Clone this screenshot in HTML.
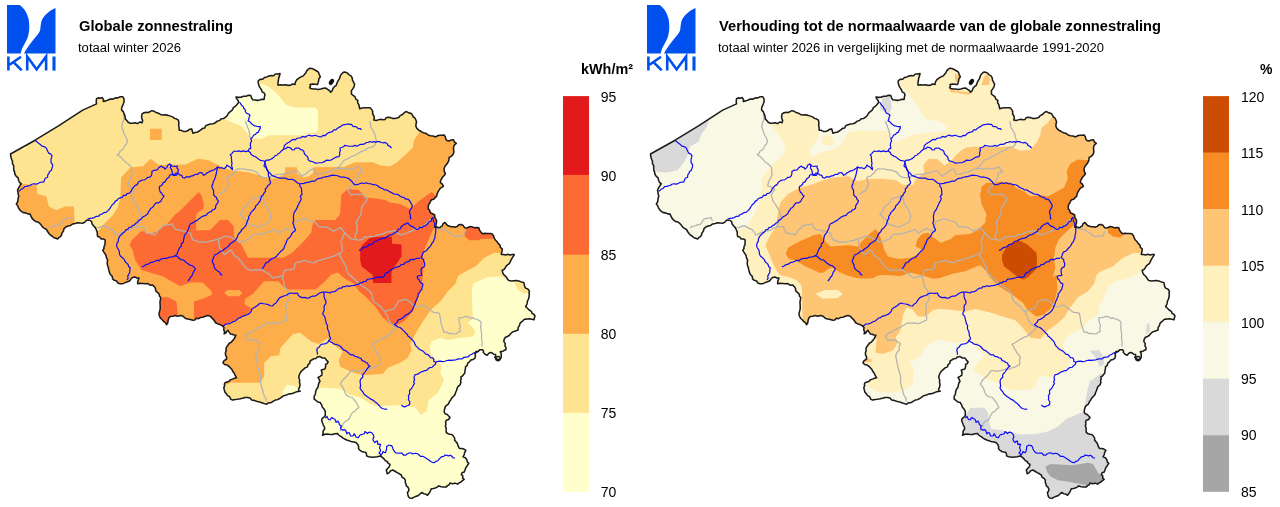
<!DOCTYPE html>
<html><head><meta charset="utf-8"><title>KMI</title>
<style>
html,body{margin:0;padding:0;background:#fff;}
body{width:1280px;height:507px;overflow:hidden;position:relative;font-family:"Liberation Sans",sans-serif;}
svg{position:absolute;left:0;top:0;will-change:transform;}
text{font-family:"Liberation Sans",sans-serif;fill:#000;}
</style></head><body>
<svg width="1280" height="507" viewBox="0 0 1280 507">
<defs>
<clipPath id="bel"><path d="M10.5,154 35.1,140.2 58.9,125.7 82.7,110.1 96.5,103.9 96.24,101.35 96.5,98.8 98.33,97.89 100.41,98.22 102.3,97.6 103.42,99.34 103.3,101.4 105.75,100.88 108.13,100.05 110.46,99.03 113.05,99.11 115.33,97.85 117.9,97.85 120.21,96.75 122.8,96.8 124.04,98.93 124.1,101.4 123.56,103.29 122.8,105.1 121.72,107.49 121.6,110.1 123.32,111.69 124.1,113.9 125.1,116.3 125.3,118.9 126.84,120.48 128.2,122.28 130.3,123.2 132.66,123.22 135.01,122.85 137.41,123.61 139.71,122.12 142.1,122.7 142.64,120.5 141.78,118.3 141.57,116.1 142.1,113.9 144.01,112.73 146.17,112.37 148.46,112.48 150.4,111.4 151.82,110.68 153.4,110.9 155.1,111.88 156.81,112.84 158.74,113.35 160.4,114.4 162.88,115.01 165.54,114.84 168.04,115.37 170.49,116.13 172.9,117.1 174.6,118.37 176.62,119.07 178.4,120.2 178.88,122.68 178.67,125.21 179.07,127.69 179.2,130.2 181.36,130.3 183.32,131.43 185.5,131.4 187.68,130.84 189.49,129.38 191.7,128.9 192.24,131.08 193,133.2 194.89,132.49 196.96,132.22 198.75,131.27 200.5,130.2 202.19,128.57 204.68,128.03 205.79,125.61 208,124.7 210.47,123.91 213.1,123.74 215.5,122.7 217.27,121.12 219.53,120.45 221.22,118.74 223.7,118.44 225.6,117.1 227.32,115.49 228.4,113.4 230.21,111.61 232.28,110.05 233.4,107.61 235.55,106.13 237.17,104.16 238.8,102.2 237.94,100.44 236.81,98.83 235.9,97.1 238.45,97.36 240.97,97.26 243.4,96.31 245.92,96.35 248.33,95.19 250.9,95.6 251.57,97.82 252.8,99.8 255.07,99.94 257.35,100.38 259.6,100.04 261.83,99.16 264.1,99.4 264.38,97.02 265,94.7 264.03,92.9 262.07,91.82 261.43,89.78 260.3,88.1 259.09,85.88 258.28,83.54 258.1,81 260.02,79.38 262.67,79.31 264.47,77.42 266.9,76.9 268.99,75.97 271.23,75.61 273.59,75.74 275.48,74.02 277.8,73.99 280,73.5 279.55,75.85 278.67,78.13 278.39,80.5 277.94,82.85 278.1,85.3 280.5,84.84 282.92,84.92 285.33,84.7 287.79,85.36 290.21,85.34 292.56,84.01 295,84.4 295.5,81.87 296.9,79.7 298.86,78.09 301.03,76.82 303.4,75.9 304.56,74.26 305.86,72.73 306.64,70.82 308.1,69.4 309.81,68.18 311.9,68.4 314.13,69.56 316.33,70.76 318.4,72.2 319.26,74.59 320.3,76.9 318.96,78.54 318.63,80.55 318.18,82.52 317.5,84.4 315,84.22 312.5,84.14 310,84.4 310.46,86.18 309.6,87.8 311.47,88.82 313.51,89.08 315.6,89.1 318.23,89.41 320.79,89.04 323.31,88.19 325.9,88.1 327.57,89.39 329.43,90.46 330.6,92.3 332.18,90.68 332.94,88.39 334.37,86.64 336.3,85.3 337,83.02 338.02,80.9 339.34,78.94 340.04,76.66 341.05,74.54 342.8,72.8 344.09,71.99 345.6,72.2 347.64,73.14 349.03,74.84 351.01,75.86 352.2,77.8 352.47,80.19 353.64,82.26 354.6,84.4 353.97,86.81 352.73,88.9 351.3,90.9 351.53,92.35 351.3,93.8 353.07,95.28 354.95,96.65 355.8,99.05 357.8,100.3 357.55,102.59 358.8,104.54 359.25,106.67 359.7,108.8 362.21,107.93 364.79,107.71 367.4,107.82 370,107.8 371.68,109.49 372.8,111.6 372.56,113.76 373.8,115.74 374.26,117.82 373.8,120 376.06,120.6 378.28,119.88 380.5,119.23 382.76,119.74 385,119.6 385.94,117.86 387.8,117.2 390.15,117.47 392.43,118.36 394.8,118.42 397.2,118.1 398.94,117.24 400.13,115.61 401.9,114.8 403.35,113.57 404.75,112.25 406.6,111.6 408.8,112.88 411.3,113.4 412.41,115.08 413.26,116.94 414.96,118.2 415.9,120 416.56,122.05 415.94,124.26 415.93,126.39 416.9,128.4 418.5,129.96 420.4,131 422.26,132.11 424.18,133.11 426.44,133.55 428.1,135 430.59,135.66 433.15,136.06 435.6,136.9 437.57,135.74 439.7,135.26 441.9,135.15 444.1,135 445.36,136.71 445.71,138.86 446.9,140.6 449.19,140.98 451.29,139.92 453.5,139.7 454.38,141.95 456.3,143.4 454.74,144.59 453.85,146.18 453.5,148.1 453.67,150 453.85,151.91 453.4,153.8 452.23,155.34 450.83,156.61 449.1,157.5 448.93,160.1 447.9,162.5 446.47,164.5 444.85,166.39 444.1,168.8 444.26,171.43 445.4,173.8 444.16,175.49 442.68,176.99 441.6,178.8 440.57,180.56 440.4,182.6 442.38,184.06 443.4,186.3 441.81,187.39 440.13,188.37 439.1,190.1 437.87,192.04 437.08,194.16 436.6,196.4 435.05,197.68 433.75,199.28 431.61,199.81 430.3,201.4 429.87,203.16 428.55,204.57 428.3,206.4 428.29,208.71 429.78,210.55 430.3,212.7 432.57,213.72 434.7,215 434.7,217.08 435.65,218.84 436.6,220.6 436.44,222.94 435.87,225.15 434.7,227.2 436.57,226.68 438.43,227.81 440.3,227.2 442.19,225.96 443.06,223.69 445,222.5 446.26,224.15 447.68,225.59 449.7,226.3 451.53,226.83 453.47,226.68 455.3,227.2 457.2,226.33 458.79,224.84 460.9,224.4 463.29,225.56 464.7,227.8 466.71,228.09 468.48,227.22 470.3,226.6 472.42,226.94 474.46,227.84 476.69,227.4 478.8,227.8 479.56,230.09 480.85,232.06 482.5,233.8 484.85,233.37 487.2,233.43 489.55,233.49 491.9,233.8 493.47,235.77 494.25,238.2 495.6,240.3 497.21,241.78 498.34,243.63 500,245.06 500.39,247.48 502.2,248.8 502.12,250.7 501.66,252.54 501.3,254.4 503.48,254.53 505.67,255.01 507.85,254.28 510.03,255.03 512.22,254.4 514.4,254.4 513.09,256.54 511.84,258.72 510.6,260.9 509.59,263.26 507.54,264.76 505.9,266.6 505,268.17 503.96,269.59 502.2,270.3 502.73,272.82 504.1,275 506.04,276.55 507.26,278.71 508.8,280.6 511.3,280.94 513.8,280.68 516.3,280.6 518.86,280.98 521.29,281.89 523.8,282.5 524.32,284.39 524.59,286.36 525.6,288.1 527.85,289.02 529.4,290.9 529.06,293.01 529.27,295.19 528.98,297.31 528.4,299.4 527.41,301.14 527.19,303.13 526.6,305 525.6,306.6 527.44,308.24 529.15,310.03 531.3,311.3 532.05,313.22 533.83,314.31 535,315.9 534.39,317.76 534.1,319.7 531.75,319.24 529.4,318.8 527.53,319.08 525.62,319.11 523.8,319.7 522.58,320.98 521.23,322.13 520,323.4 519.4,325.61 518.1,327.62 518.1,330 516.09,330.68 514.09,331.4 512.18,332.26 510.6,333.8 509.21,335.47 507.29,336.53 505.29,337.5 504.1,339.4 503.89,341.64 505.24,343.66 505,345.9 506,347.67 505.9,349.7 504.06,350.42 502.37,351.57 500.3,351.6 501.18,353.87 501.3,356.3 500.9,358.27 499.4,359.6 497.7,359.35 496,359.6 495.72,358.2 494.7,357.2 495.72,355.98 495.6,354.4 493.57,354.26 491.97,352.83 490,352.5 488.43,353.73 487.2,355.3 484.98,354.33 483.4,352.5 483.5,350.92 482.5,349.7 480.11,349.66 478.22,351.37 475.9,351.6 474.93,353.67 475.45,355.95 475,358.1 473.14,359.38 470.85,360.03 469.4,361.9 467.75,363.15 467.26,365.35 465.6,366.6 465.4,368.78 464.98,370.93 464.7,373.1 463.6,374.54 462.49,375.96 460.9,376.9 461.17,378.77 460.57,380.63 460.9,382.5 460.08,384.83 458.1,386.3 457.19,388.34 456.52,390.47 455.6,392.5 454.95,394.8 453.31,396.44 451.69,398.1 450.6,400.1 449.35,401.76 448.66,403.82 446.9,405.1 445.42,406.4 444.85,408.17 444.4,410 444.16,412.06 445.3,413.8 447.23,414.57 448.65,415.99 450,417.5 448.57,419.45 446.3,420.3 445.55,422.09 445.97,424.09 445.3,425.9 446.18,428.02 446.08,430.28 446.3,432.5 447.97,433.72 449.88,434.22 451.9,434.4 453.33,436.09 454.59,437.89 454.72,440.36 456.29,441.97 457.5,443.8 458.17,446.21 459.4,448.4 461.74,448.44 463.92,449.03 465.9,450.3 464.71,452.39 464.14,454.74 463.1,456.9 465.38,457.78 466.9,459.7 467.27,461.85 468.8,463.4 467.36,465.5 465.87,467.57 465,470 464.26,471.95 462.11,472.8 461.3,474.7 462.79,475.93 462.7,478.11 464.1,479.4 462.49,480.63 460.94,481.95 459.1,482.86 457.5,484.1 455.08,483.13 452.45,483.78 450,483.1 449.17,484.75 447.5,485.61 446.3,486.9 443.75,486.96 441.22,486.81 438.8,485.9 437.11,487.1 435.29,487.98 433.34,488.49 431.3,488.8 430.28,491.11 429.02,493.28 427.5,495.3 425.81,494.02 423.63,493.72 421.9,492.5 420.03,493.77 418.44,495.43 416.3,496.3 414.16,497.12 412.09,498.2 409.7,498.1 408.42,496.42 407.8,494.4 407.42,492.41 408.81,490.73 408.8,488.8 407.9,487.19 406.47,485.91 405.9,484.1 405.26,482.21 405.32,480.1 404.1,478.4 402.12,477.29 401.3,474.99 399.4,473.8 397.15,472.62 395,471.27 392.8,470 390.65,470.85 389.16,472.67 387.2,473.8 386.76,471.9 386.3,470 387.77,468.29 389.37,466.67 390,464.4 388.28,463.32 387.18,461.48 385.3,460.6 383.95,458.81 382.31,457.32 380.6,455.9 378.76,456.37 376.91,456.79 375,456.9 372.82,457.31 370.73,456.95 368.62,456.79 366.6,455.9 366.45,453.96 365.6,452.2 363.62,451.91 361.7,451.41 360,450.3 358.52,448.7 358.61,446.32 357.72,444.43 356.3,442.8 354.17,441.92 351.81,441.85 349.7,440.9 347.35,440.32 345.18,439.32 343.1,438.1 341.19,436.58 339.04,435.36 337.5,433.4 335.01,433.81 332.55,434.42 330,434.4 327.42,434.01 324.92,434.3 322.5,435.3 323.04,433.22 323.08,431.02 324.61,429.15 324.4,426.9 323.2,424.81 322.34,422.58 321.6,420.3 322.25,418.27 323.93,417.06 325.3,415.6 325.26,413.45 325.3,411.3 324.05,409.12 322.41,407.17 321.56,404.77 320.3,402.6 317.82,401.97 315.92,400.37 314,398.8 314.18,396.34 315.38,394.23 315.63,391.8 316.36,389.53 317.8,387.5 318.1,386.25 318.46,384.48 318.99,382.77 320,381.25 319.16,379.32 318.1,377.5 320.02,376.29 321.9,375 321.95,372.45 321.25,370 323.2,369.6 325,368.75 325.62,366.62 325.6,364.4 327.25,363.55 328.1,361.9 326.42,360.1 325,358.1 322.46,357.96 320.11,356.58 317.5,356.9 315.89,358.44 313.58,358.78 311.77,359.98 310,361.25 309.79,363.41 307.87,364.81 307.5,366.9 305.08,367.87 303.22,369.64 301.25,371.25 300.09,373.2 299.15,375.24 298.75,377.5 299.7,379.91 299.55,382.51 300,385 299.58,387.08 298.67,389.07 298.75,391.25 300.3,391.3 297.98,391.49 295.77,392.08 293.67,393.05 291.5,393.8 289.14,393.86 287.03,394.79 284.82,395.4 282.7,396.3 281.01,397.61 279.27,398.83 277.32,399.64 275.2,400.1 273.09,401.34 271.06,402.73 268.38,402.8 266.4,404.3 264.43,403.62 262.46,402.92 260.45,402.32 258.48,401.64 256.4,401.3 254.19,400.36 251.7,400.08 249.98,398.04 247.6,397.5 245.04,397.57 242.6,398.36 240.1,398.8 237.59,399.18 235.06,399.43 232.6,400.1 230.56,398.99 229.7,396.7 227.61,395.64 226.3,393.8 224.87,391.94 224.31,389.73 223.8,387.5 224.63,385.93 224.38,384.04 225.3,382.5 227.17,381.92 229.03,381.33 230.4,379.8 232.46,379.12 234.48,378.3 236.6,377.8 235.34,375.72 234.37,373.46 232.9,371.5 231.95,369.59 230.51,368.06 229.1,366.5 227.14,365.08 224.64,364.58 222.9,362.8 223.75,361.16 225.1,360.01 226.6,359 226.56,356.83 225.51,354.85 225.4,352.7 226.12,350.86 225.96,348.72 226.65,346.87 227.9,345.2 229.32,343.29 231.42,342.05 232.9,340.2 234.15,338.68 235.13,337 235.9,335.2 233.99,335.07 232.24,334.31 230.4,333.9 229.11,332.08 227.9,330.2 226.67,331.47 225.77,333.08 224.1,333.9 224.69,331.83 223.65,329.77 224.1,327.7 222.37,325.82 220.24,324.61 217.8,323.9 215.62,322.75 214.42,320.61 212.8,318.9 211.4,317.4 209.85,316.11 207.8,315.6 205.32,316.34 202.89,317.27 200.3,317.6 198.57,318.66 196.33,318.27 194.82,319.96 192.8,320.2 190.33,319.43 187.8,318.9 185.71,318.57 184.06,317.22 182.45,315.8 180.3,315.6 177.82,316.35 175.21,315.52 172.72,316.19 170.2,316.4 168.74,318.24 168.07,320.43 167.79,322.79 166.5,324.7 165.69,322.82 163.95,321.71 162.7,320.2 160.82,318.47 159.53,316.38 158.9,313.9 159.54,311.4 160.2,308.9 160.23,306.64 160.1,304.37 159.96,302.1 160.37,299.85 160.7,297.6 159.46,296.08 159.14,294 157.7,292.6 155.83,291.14 155.51,288.64 154.37,286.69 152.7,285.1 150.1,285.23 147.81,283.6 145.2,283.8 142.67,283.48 140.13,283.2 137.6,283.8 137.73,281.8 138.28,279.89 138.9,278 136.79,277.99 134.76,276.92 132.6,277.5 131.27,278.67 130.28,280.18 128.9,281.3 126.73,282.03 124.59,282.87 122.49,283.83 120.1,283.8 117.89,283.05 116.63,280.88 114.3,280.32 112.6,278.8 112.25,276.34 110.35,274.55 109.43,272.34 108.8,270 108.36,267.56 107.42,265.21 107.23,262.72 107.63,260.11 106.5,257.8 106.09,255.67 105.07,253.84 103.9,252.09 102.8,250.3 103.99,248.59 104,246.5 105.08,244.53 104.94,242.31 105.3,240.2 103.54,238.98 101.2,238.96 99.75,237.11 97.7,236.5 97.23,234.41 97.27,232.23 96.5,230.2 95.44,227.89 93.72,225.96 92.16,223.93 91.5,221.4 89.15,220.18 86.5,220.2 84.95,222.14 82.7,223.2 80.2,222.99 77.7,222.7 75.25,223.53 72.7,223.9 70.65,225.41 68.12,226.09 65.75,227.03 63.9,228.9 63.4,231.13 62.02,233.01 61.4,235.2 60.34,236.68 58.81,237.67 57.6,239 55.86,238.31 54.04,237.78 52.6,236.5 50.57,235.19 48.96,233.48 47.6,231.5 46.48,229.5 44.5,228.35 42.65,227.07 41.4,225.2 39.83,223.44 38.01,222.08 35.66,221.51 33.8,220.2 32.1,218.37 30.94,216.23 30.1,213.9 27.73,213.87 25.64,212.88 23.33,212.62 21.3,211.4 19.72,209.74 18.5,207.85 17.64,205.72 16.3,203.9 17.48,202.21 17.91,200.27 18.05,198.23 18.8,196.4 18.24,194.33 17.97,192.19 17.5,190.1 18.61,187.9 19.83,185.77 21.3,183.8 19.5,182.29 18.52,180.24 18.13,177.79 16.3,176.3 14.95,174.44 14.64,172.16 13.8,170.1 13.67,167.87 13.69,165.62 12.4,163.56 12.5,161.3 11.5,158.96 10.8,156.53Z"/></clipPath>
<g id="logo">
<path d="M7,5 L19.7,5 C24,8 27.5,13 28.8,20 C29.8,27 29.3,33 27.5,38 C25.5,43 22,47 20.7,53.6 L7,53.6 Z" fill="#0050f0"/>
<path d="M55.5,7.9 C50,10 45,14.5 42.3,19 C40.5,23 40.6,27 40.2,30 C39.5,33 35,37.5 32,41.5 C29,45.5 25.5,50 24,53.6 L55.5,53.6 Z" fill="#0050f0"/>
<g stroke="#0050f0" stroke-width="2.6" fill="none">
<path d="M8.4,56.5V70.6M21,56.7L9.5,64.8M13.2,61.8L21.7,70.4"/>
<path d="M27.2,70.6V56.5L36.6,69.4L46.1,56.5V70.6"/>
<path d="M54,56.5V70.6" stroke-width="3.1"/>
</g>
</g>
<g id="lines">

<path d="M123.75,113.75 123.65,115.83 124.12,117.92 123.75,120 122.59,122.37 122.02,124.88 121.9,127.5 122.87,129.99 123.58,132.57 124.7,135 125.95,137.03 126.87,139.2 127.5,141.5 126.47,143.79 124.8,145.72 123.75,148 122.36,149.92 120.07,150.95 119.21,153.39 117.2,154.7 119.62,156.29 121.89,158.06 123.75,160.3 125.41,162.19 127.61,163.48 129.4,165.22 131.25,166.9 131.77,169.37 131.72,171.92 132.2,174.4 131.37,176.32 130.65,178.29 129.4,180 128.53,182.83 127.5,185.6 130.11,186.66 132.71,187.72 135,189.4 133.43,191.05 132.32,193.01 131.25,195 131.98,197.57 132.65,200.16 134,202.5 135.69,204.93 137.29,207.42 138.75,210 139.96,212.61 141,215.3 140.16,217.78 138.91,220.11 138.7,222.83 137.24,225.08 136.25,227.5" fill="none" stroke="#b2b2b2" stroke-width="1.25" stroke-linejoin="round"/>
<path d="M50,228 51.81,226.62 54,226 56.03,225.64 57.9,224.62 60,224.5 61.54,222.82 62.77,220.91 64,219 66.3,218.36 68.7,218.14 71,217.5 71.68,219.28 72.5,221" fill="none" stroke="#b2b2b2" stroke-width="1.25" stroke-linejoin="round"/>
<path d="M96.9,227.5 99.54,227.42 101.89,226.18 104.4,225.6 106.78,227.1 109.27,228.38 111.9,229.4 113.42,231.08 114.79,232.85 115.6,235 118.24,234.12 120.64,232.58 123.35,231.87 126,231 128.71,230.57 131.27,229.67 133.54,227.94 136.25,227.5 138.69,226.7 141.21,226.57 143.75,226.6 143.99,228.84 145.53,230.71 145.6,233 148.02,233.18 150.4,233.54 152.74,234.06 155,235 156.52,233.14 157.7,231 159.42,229.29 161.22,227.65 162.5,225.6 164.9,225.4 167.18,224.57 169.62,224.55 171.9,223.75 173.06,225.68 174.04,227.73 175.6,229.4 178.01,229.57 180.33,230.17 182.63,230.88 185,231.25 187.64,232.64 190.6,233 191.1,235.27 191.9,237.46 192.5,239.7 195.1,240.35 197.59,241.32 200,242.5 202.76,241.69 205.72,242.13 208.51,241.53 211.25,240.6 213.86,240.44 216.26,239.4 218.75,238.75 221.34,238.07 223.67,236.69 226.25,236 228.76,236.9 231.4,237.43 233.75,238.75 235.69,239.92 237.68,241 239.4,242.5 241.6,241.34 244.22,241.58 246.27,239.94 248.75,239.7 250.29,238.37 251.44,236.72 252.5,235 255.23,234.02 258.12,233.98 261.04,234.09 263.75,233 266.74,232.66 269.4,231.27 272.29,230.61 275,229.4 276.7,231.38 278.75,233 281.12,231.25 283.78,229.98 286.25,228.4 288.71,229.46 291.3,230.18 293.75,231.25 294.59,228.99 294.61,226.56 295.43,224.3 295.6,221.9 297.8,220.68 300.28,220.39 302.49,219.2 305,219 307.45,219.84 309.88,220.77 312.5,221 315,221.9 316.21,223.5 317.44,225.08 318.75,226.6 321.05,226.97 323.41,226.73 325.7,227.14 328,227.5 329.87,228.83 331.74,230.15 333.75,231.25 335.86,229.88 338.1,228.73 340.3,227.5 342.02,229.2 343.38,231.21 345,233 346.72,235.06 348.88,236.69 350.6,238.75 353.39,239.44 356.25,239.7 359.07,240.12 361.9,239.7 363.33,238.33 364.7,236.9 367.33,237.25 369.83,236.22 372.47,236.73 375,236 377.23,234.89 379.65,234.34 382.17,234.11 384.4,233 386.58,231.79 389.11,231.78 391.54,231.4 393.75,230.3 395.97,232.32 398.63,233.62 401.25,235 404.01,233.83 406.9,233 409.17,231.91 411.63,231.35 413.73,229.81 416.25,229.4 418.49,227.63 421.46,227.28 423.75,225.6 425.73,224.06 427.23,222 429.32,220.59 431.25,219" fill="none" stroke="#b2b2b2" stroke-width="1.25" stroke-linejoin="round"/>
<path d="M218.75,238.75 218.44,241.12 218.78,243.42 219.19,245.72 219.7,248 221.53,250.05 223,252.35 224.4,254.7 226.43,253.33 228.37,251.85 230,250 231.7,251.2 232.81,252.88 233.75,254.7 235.33,256.63 237.81,257.48 239.4,259.4 240.65,261.39 242.36,263.03 243.46,265.13 245,266.9 246.63,268.5 248.68,269.45 250.6,270.6 253.41,270.24 256.23,269.94 259.09,270.07 261.9,269.7 264.32,271.4 266.96,272.74 269.4,274.4 271.23,276.17 273,278 275.38,277.61 277.7,276.84 280.06,276.31 282.5,276.25 283.53,273.45 284.4,270.6 286.64,269.67 289.1,269.79 291.48,269.57 293.75,268.75 294.74,266.95 294.7,264.83 295.6,263 297.92,262.23 300.44,262.14 302.6,260.8 305,260.3 307.3,261.76 310.12,261.76 312.5,263 315.14,262.48 317.31,260.68 320.07,260.49 322.5,259.4 324.95,259.05 327.22,258.05 329.6,257.45 331.9,256.6 334.62,255.78 337.17,254.6 339.4,252.8" fill="none" stroke="#b2b2b2" stroke-width="1.25" stroke-linejoin="round"/>
<path d="M282.5,276.25 282.53,278.68 283.63,280.89 283.58,283.33 284.4,285.6 285.14,287.77 286.99,289.25 288,291.25 288.15,293.4 289.13,295.37 289.4,297.5 288.83,299.52 287.7,301.25 286.6,303 285.97,305.49 286.35,308.12 285.6,310.6 285.66,312.97 286.28,315.28 286.74,317.61 286.6,320 284.48,321.01 282.35,322 280.17,322.86 278,323.75 275.73,323.06 273.43,322.77 271.03,323.36 268.75,322.8 266.35,323.46 264.46,325.03 262.14,325.84 260.3,327.5 257.97,328.08 255.92,329.34 253.75,330.3 251.8,331.97 249.24,332.72 247.08,334.08 245.3,336 246.52,338.38 248,340.6 250.48,339.84 253.11,340.39 255.6,339.7 257.75,341.8 260.3,343.4 259.55,345.54 259.13,347.72 259.4,350 257.66,351.55 256.63,353.57 255.6,355.6 256.2,357.92 256.51,360.31 257.02,362.65 257.5,365 257.9,367.44 258.75,369.74 259.22,372.16 260.3,374.4 260.52,377.05 260.67,379.71 260.46,382.4 261.25,385 261.64,387.6 262.7,390 263.13,392.99 264.32,395.72 265.9,398.33 266.4,401.3" fill="none" stroke="#b2b2b2" stroke-width="1.25" stroke-linejoin="round"/>
<path d="M239.7,214.7 241.31,212.73 242.9,210.74 243.42,208.04 245.3,206.25 247.79,204.51 249.8,202.3 251.26,199.54 253.75,197.8 256.16,197.71 258.49,197.26 260.69,196.08 263.1,196 262.84,198.53 263.86,200.91 264,203.4 265.31,204.93 266.39,206.65 267.8,208.1 268.52,210.39 269.39,212.62 270.6,214.7 270.56,216.92 270.02,219.07 269.7,221.25 267.33,223.04 264.68,224.31 261.98,225.5 259.4,226.9 256.95,226.93 254.66,226.13 252.42,225.1 250,225 248.43,223.35 247.43,221.31 246.25,219.4 243.74,218.28 242.05,216.04 239.7,214.7" fill="none" stroke="#b2b2b2" stroke-width="1.25" stroke-linejoin="round"/>
<path d="M220,194 221.7,192.51 223.79,191.61 225.6,190.3 227.05,188.34 227.64,186.01 228.4,183.75 227.78,181.84 226.98,179.99 226.6,178 228.23,176.43 230.66,176.1 232.2,174.4 234.28,172.73 235.72,170.42 237.8,168.75 240,168.86 242.2,169 244.4,168.75 247.08,169.94 250.07,169.92 252.86,170.67 255.6,171.6 257.43,172.88 258.66,174.78 260.3,176.25 263.01,177.33 265.88,177.69 268.75,178 270.45,176.71 272.45,176.06 274.4,175.3 276.84,174.5 279.35,174.3 281.9,174.4 284.24,173.92 286.49,173.04 288.86,172.71 291.25,172.5 293.98,171.26 296.9,170.6 298.83,172.42 300.33,174.67 302.5,176.25 304.18,174.58 306.33,173.53 308.05,171.92 310,170.6 311.76,169.45 313.75,168.75 314.9,171.5 315.6,174.4 318.02,174.25 320.38,173.85 322.71,173.25 325,172.5 327.96,172.01 330.71,170.88 333.36,169.46 336.25,168.75 337.94,167.12 340,166 341.32,164.14 342.61,162.27 343.75,160.3 346.4,159.37 348.97,158.27 351.25,156.6 353.75,155.74 356.18,154.76 358.36,153.26 360.6,151.9 363.17,150.79 365.7,149.62 368,148 369.92,147.41 371.94,147.18 373.75,146.25 375.1,144.57 375.66,142.49 376.6,140.6 375.79,138.45 375.2,136.24 374.7,134 373.58,131.77 372.3,129.63 371,127.5 370.66,125.33 370.2,123.19 370,121" fill="none" stroke="#b2b2b2" stroke-width="1.25" stroke-linejoin="round"/>
<path d="M250.9,138.75 249.84,136.62 250,134.15 249,132 248.77,129.54 247.53,127.37 247,125 245.9,123.1 245.3,121" fill="none" stroke="#b2b2b2" stroke-width="1.25" stroke-linejoin="round"/>
<path d="M336.25,168.75 338.75,168.49 341.25,168.7 343.75,168.81 346.25,168.27 348.75,168.75 351.25,168.75 353.88,168.67 356.27,167.59 358.75,166.9 359.98,168.48 360.98,170.25 362.5,171.6 360.17,172.55 357.8,173.4 358.07,175.7 357.8,178 356.18,180.03 355.61,182.66 354,184.7 351.53,186.21 349.37,188.08 347.5,190.3 348.7,191.9 349.98,193.45 351.25,195 354.02,194.23 356.84,194.11 359.72,194.58 362.5,194 363.87,195.78 365.53,197.27 367.2,198.75 366,201.48 363.84,203.61 362.5,206.25 361.42,208.86 361.06,211.6 361,214.4 359.25,216.79 357.89,219.43 356.25,221.9 356.66,224.39 357.3,226.85 357.2,229.4 356.77,232.38 355.3,235 355.22,237.46 356.25,239.7" fill="none" stroke="#b2b2b2" stroke-width="1.25" stroke-linejoin="round"/>
<path d="M345,233 343.28,235.3 342.62,238.13 341.25,240.6 341.1,242.99 342.03,245.27 341.98,247.65 342.2,250 341.51,251.99 340.29,253.71 339.4,255.6 341.24,257.69 342.29,260.25 343.79,262.54 345,265 346.45,267.15 346.52,269.84 347.35,272.23 348.75,274.4 350.9,275.61 352.42,277.59 354.4,279 356.25,280.68 358.21,282.23 359.95,284.03 361.9,285.6 363.66,287.03 365.78,287.91 367.5,289.4 369.08,290.73 370.43,292.31 371.9,293.75 371.94,296.39 372.63,298.87 373.75,301.25 375.42,302.93 377.53,304.03 379.08,305.88 381.25,306.9 382.05,308.83 383.39,310.32 385,311.6 387.24,310.54 389.67,310.07 391.96,309.15 394.4,308.75 395.55,306.22 397.18,303.93 398,301.25 400.53,300.63 403.02,299.82 405.6,299.4 407.7,300.26 409.6,301.44 411.25,303 412.85,305.22 415,306.9 417.63,306.79 420.11,306.09 422.5,305 425.08,306 427.15,307.77 429.49,309.14 431.52,310.96 433.75,312.5 436.63,312.6 439.4,313.4 439.88,315.98 440.38,318.56 440.63,321.19 441.25,323.75 442.15,326.57 443.08,329.38 444,332.2 446.69,332.11 449.11,333.62 451.81,333.46 454.4,334 456.58,333.54 458.32,332.07 460.4,331.4 459.63,328.69 460.43,325.82 459.55,323.12 458.88,320.4 459,317.6 461.24,317.75 463.36,317.3 465.4,316.4 468.02,316.6 470.26,318.22 473.01,317.92 475.4,319 478.14,319.8 480.5,321.4 481.16,324.12 480.53,326.96 481.09,329.69 481.39,332.45 481.7,335.2 481.46,338.02 481.95,340.85 482.23,343.68 481.7,346.5" fill="none" stroke="#b2b2b2" stroke-width="1.25" stroke-linejoin="round"/>
<path d="M385,311.6 385.76,314.19 387.55,316.32 387.88,319.11 389.49,321.32 390.6,323.75 392.55,324.9 394.29,326.37 396.25,327.5 394.66,329.66 392.76,331.51 390.69,333.19 388.75,335 386.56,336.46 383.98,337.17 381.78,338.61 379.4,339.7 376.97,341.39 374.54,343.06 371.9,344.4 373.41,346.08 374.15,348.28 375.6,350 376.76,352.76 378.89,354.9 380.3,357.5 379.64,359.96 379.92,362.53 379.4,365 376.93,365.65 374.82,367.17 372.32,367.74 370,368.75 367.67,369.32 365.21,369.24 362.89,369.83 360.6,370.6 358.26,371.07 355.93,371.08 353.59,370.65 351.25,370.6 350.6,371.25 348.99,373.66 347.11,375.82 345,377.8 342.99,379.69 341.44,381.89 340.3,384.4 342.02,385.95 343.25,387.82 344,390 344.86,392.41 346,394.7 347.95,396.13 350.15,396.99 352.5,397.5 353.57,399.21 354.78,400.81 356.25,402.2 357.19,404.06 358.09,405.93 359,407.8 356.58,409.02 354.94,411.31 352.5,412.5 351.37,414.23 350.4,416.05 349.7,418 347.74,420.23 345.02,421.59 343,423.75 342.47,426.38 340.67,428.56 340.3,431.25" fill="none" stroke="#b2b2b2" stroke-width="1.25" stroke-linejoin="round"/>
<path d="M436,228.4 438.8,228.71 441.58,229.26 444.4,229.4 446.19,230.72 448,232 450,233 451.59,234.7 453.56,235.85 455.6,236.9 458.02,236.2 460.49,235.97 463,236 463.95,233.6 465,231.25" fill="none" stroke="#b2b2b2" stroke-width="1.25" stroke-linejoin="round"/>
<path d="M34.7,140.25 36.61,141.58 38.38,143.09 40.3,144.4 41.88,146.07 44.13,146.59 46,147.75 46.99,149.64 47.88,151.58 49,153.4 50.78,154.12 52,155.6 51.65,157.16 51.14,158.69 51,160.3 51.07,162.6 52.59,164.57 52.5,166.9 51.88,168.66 51.29,170.44 49.47,171.55 49,173.4 47.75,174.97 47.59,177.19 45.37,178.2 44.4,179.93 44,182 41.91,182.12 39.87,182.53 37.94,183.56 35.92,184.12 33.75,183.75 31.87,184.28 30.2,185.52 28.28,185.9 26.38,186.4 24.4,186.6 23.44,188.31 21.61,188.97 20.22,190.16 18.75,191.25" fill="none" stroke="#0c0cf5" stroke-width="1.2" stroke-linejoin="round"/>
<path d="M87.5,219 89.74,218.41 92.06,218.13 94.31,217.59 96.37,216.28 98.75,216.25 100.22,214.49 102.35,213.83 104.12,212.57 106.39,212.13 108,210.6 109.36,209.22 110.37,207.59 111.45,206 112.5,204.4 114.16,203.26 115.15,201.36 116.94,200.37 118.17,198.74 120,197.8 122.15,197.4 123.46,195.33 125.85,195.41 127.23,193.47 129.4,193.1 131.02,191.39 132,189.2 133.49,187.39 135,185.6 137.18,184.61 138.32,182.22 140.23,180.87 142.5,180 144.59,179.88 146.25,178.61 147.91,177.33 150,177.2 151.33,175.57 151.9,173.68 151.9,171.6 153.58,170.42 155.6,170.22 157.5,169.7 158.37,168.08 159.8,167.03 161.25,166 162.38,167.17 164.07,167.68 165,169.1 166.78,167.6 167.64,165.24 169.7,164 170.8,165.74 170.52,167.95 171.6,169.7 172.2,172.02 172.5,174.4" fill="none" stroke="#0c0cf5" stroke-width="1.2" stroke-linejoin="round"/>
<path d="M169.7,164 170.91,164.75 171.6,166 173.47,166.28 175.33,166.28 177.2,166 176.98,167.95 178.27,169.66 178.1,171.6 177.54,173.63 176.25,175.3 173.82,175.37 171.6,174.4" fill="none" stroke="#0c0cf5" stroke-width="1.2" stroke-linejoin="round"/>
<path d="M171.6,174.4 169.7,175.3 169.01,177.29 167.1,178.42 165.99,180.12 165,181.9 163.18,182.57 162.42,184.51 161.04,185.71 159.4,186.6 159.35,188.52 159.77,190.37 160.3,192.2 161.75,193.26 162.57,194.93 164,196 163.22,197.61 161.81,198.85 161.25,200.6 159.9,202.05 158.18,202.86 156.04,202.93 154.7,204.4 153.69,205.94 152.63,207.43 150.83,208.31 150,210 148.59,211.55 147.92,213.65 146.25,215 144.76,215.94 143.21,216.8 141.9,218 140.65,219.66 138.62,220.36 137.56,222.24 135.79,223.26 134.46,224.82 132.5,225.6 131.19,227.18 128.89,227.5 127.84,229.41 125.71,229.95 124.64,231.84 123,233 121.72,234.34 120.26,235.53 119.33,237.14 118.4,238.75 118.36,241.09 117.07,243.08 116.6,245.3 117.11,247.48 118.45,249.37 119.28,251.45 119.4,253.75 120.35,255.96 122.18,257.51 123.97,259.1 125,261.25 126.37,262.84 127.95,264.26 128.59,266.44 130.25,267.8 129.75,270 129.83,272.33 128.75,274.4 127.68,276.12 128.1,278.33 126.9,280" fill="none" stroke="#0c0cf5" stroke-width="1.2" stroke-linejoin="round"/>
<path d="M172.5,174.4 174.49,174.75 176.1,173.01 178.1,173.4 179.54,174.86 181.7,175.33 182.63,177.52 184.7,178.1 186.52,176.68 189.01,177.16 190.97,176.14 193.12,175.64 195,174.4 197.41,174.49 199.29,172.76 201.6,172.5 202.7,173.77 203.4,175.3 205.25,174.63 206.64,173.13 208.33,172.17 210,171.18 211.9,170.6 214.06,169.81 215.94,168.6 217.5,166.9 219.54,167.95 221.95,167.73 224,168.75 225.95,167.26 226.9,165 228.29,166.19 229.96,167.04 231.14,168.47 232.5,169.7 232.2,167.65 231.51,165.63 232.06,163.51 231.57,161.48 231.6,159.4 231.25,157.8 231.32,156.09 230.25,154.7 231.78,153.63 232.92,152.13 234.4,151 236.59,151.5 238.75,150.9 241.09,151.64 243.43,150.89 245.76,151.57 248.1,150.9 248.99,148.99 250.9,148.1 250.36,145.76 250.41,143.43 251.56,141.09 250.9,138.75 252.55,137.05 253.75,135 255.47,134.35 256.68,132.86 258.4,132.2 259.03,130.33 260.22,128.65 260.3,126.6 258.28,126.71 256.41,126.21 254.51,125.83 252.8,124.7 251.2,123.47 249.99,121.77 248.1,120.9 248.81,119.06 249.23,117.12 250,115.3 248.44,114.06 246.57,113.21 245.3,111.6 245.29,109.78 243.83,108.55 243.4,106.9 241.85,105.58 240.71,103.94 239.7,102.2" fill="none" stroke="#0c0cf5" stroke-width="1.2" stroke-linejoin="round"/>
<path d="M217.5,166.9 217.23,169.28 216.58,171.58 216.2,173.94 215.6,176.25 214.93,178.15 214.25,180.04 213.16,181.77 212.98,183.86 211.9,185.6 212.16,187.99 213.55,190.16 213.58,192.59 213.75,195 215.1,196.24 216.49,197.46 216.96,199.43 218.4,200.6 217.97,202.55 216.59,204.15 215.66,205.91 215.6,208 214.39,209.48 212.32,209.95 211.25,211.6 209.15,212.27 207.38,213.52 205.98,215.42 203.78,215.92 201.78,216.77 200,218 198.28,219.41 196.46,220.65 194.51,221.69 192.67,222.91 190.6,223.75 189.27,225.76 188.94,228.21 187.8,230.3 186.95,232.23 185.71,233.95 184.35,235.62 184,237.8 183.61,240.01 183.28,242.24 181.26,243.92 181.25,246.25 179.69,247.86 178.62,249.76 177.83,251.84 177.07,253.94 175.6,255.6 173.49,256.66 171.19,257 168.89,257.34 166.8,258.47 164.4,258.4 162.43,258.68 160.54,259.21 158.97,260.81 156.73,260.19 155,261.25 152.82,262.2 150.38,262.56 148.46,264.11 146.09,264.61 144.11,266.02 141.9,266.9" fill="none" stroke="#0c0cf5" stroke-width="1.2" stroke-linejoin="round"/>
<path d="M175.6,255.6 177.46,256.76 179.12,258.25 180.88,259.58 183.28,259.85 185,261.25 186.48,262.82 188.25,264 190.01,265.2 192.21,265.78 194,266.93 195.3,268.75 194.52,270.71 193.1,272.35 192.5,274.4 191.63,276.27 190.15,277.7 189.2,279.51 187.8,281" fill="none" stroke="#0c0cf5" stroke-width="1.2" stroke-linejoin="round"/>
<path d="M248.1,150.9 250,152.13 251.06,154.2 252.8,155.6 254.81,156.56 256.79,157.57 258.43,159.11 260.3,160.3 262.65,160.77 265,161.25 264.7,162.84 264.39,164.43 264,166 265.54,167.31 266.82,168.83 267.8,170.6 268.84,172.35 270.54,173.57 271.6,175.3 273.59,176.11 275.61,176.84 277.64,177.51 279.67,178.18 281.9,178.1 283.98,178.02 285.99,178.34 287.9,179.4 289.95,179.48 292.05,179.24 294,180 295.75,181.47 297.49,182.97 299.7,183.75 299.85,186.07 301.38,188 301.6,190.3 301.7,192.39 301.94,194.49 300.29,196.41 301.22,198.58 300.6,200.6 299.37,202.32 298.7,204.32 297.7,206.16 296.9,208.1 295.81,210.18 294.36,212.08 293.75,214.4 293.36,216.48 293.57,218.63 293.61,220.76 292.8,222.8 293.76,224.99 294.08,227.45 295.6,229.4 294.75,231.29 292.85,232.34 291.65,233.95 290.93,235.95 289.61,237.47 288,238.75 286.83,240.5 286.25,242.54 285.38,244.44 284.36,246.26 283.95,248.39 282.5,250 280.78,251.28 279.41,252.91 277.96,254.46 276.67,256.17 275,257.5 272.88,258.2 270.99,259.28 269.33,260.74 267.79,262.43 265.6,263 264.81,265.2 263.57,267.12 261.9,268.75" fill="none" stroke="#0c0cf5" stroke-width="1.2" stroke-linejoin="round"/>
<path d="M299.7,183.75 301.81,183.64 303.9,183.43 305.89,182.67 307.94,182.29 310,181.9 312.2,180.99 314.74,181.09 316.65,179.32 318.83,178.36 321.25,178.1 323.37,177.28 325.56,176.82 327.77,176.45 329.94,175.89 332.09,175.19 334.4,175.3 336.34,175.52 338.22,175.98 340,176.83 341.9,177.2 343.88,177.21 345.8,177.47 347.63,178.12 349.4,179 350.75,180.47 352.32,181.73 353.35,183.52 355,184.7 357.33,184.77 359.48,183.81 361.65,182.97 364.06,183.52 366.25,182.8 368.41,183.73 370.79,183.77 372.94,184.71 375.32,184.75 377.5,185.6 379.1,187.1 381.03,187.93 382.93,188.82 384.69,189.98 387.05,189.95 388.75,191.25 390.6,192.1 392.37,193.15 394.2,194.04 396.31,194.27 398.34,194.71 400,196 401.8,197.09 404.02,197.31 405.5,199.04 407.85,199.02 409.4,200.6 410.39,202.13 411.29,203.72 412.2,205.3 411.79,207.72 410.36,209.71 409.4,211.9 409.86,213.78 410.52,215.6 410.21,217.67 411.25,219.4" fill="none" stroke="#0c0cf5" stroke-width="1.2" stroke-linejoin="round"/>
<path d="M265,161.25 265,163.51 265.91,165.51 266.38,167.64 266.77,169.79 268.28,171.62 268.33,173.87 268.53,176.07 269.7,178 269.45,179.7 270.19,181.22 270.6,182.8 269.55,184.55 267.8,185.6 266.97,187.51 265.24,188.96 265.48,191.42 264,193 263.15,195.03 261.25,196.47 260.82,198.74 260.05,200.82 258.82,202.64 257.5,204.4 255.76,205.73 255.2,207.93 253.84,209.54 252.35,211.06 250.88,212.59 250.01,214.56 248.75,216.25 248.74,218.6 247.41,220.59 246.9,222.8 246.21,224.91 244.89,226.56 243.52,228.18 241.67,229.43 240.91,231.49 239.4,233 238.03,234.56 237.56,236.72 236.49,238.47 235.48,240.27 233.75,241.6 231.69,242.84 229.68,244.14 228.4,246.37 226.51,247.83 224.4,249 222.9,250.76 220.53,251.09 218.91,252.68 217.16,254.03 215,254.7 213.86,256.8 213,259.01 212.2,261.25 212.97,263.1 214.09,264.82 214.11,266.95 215,268.75 216.45,270.12 218.07,271.29 219.83,272.3 220.58,274.47 222.5,275.3" fill="none" stroke="#0c0cf5" stroke-width="1.2" stroke-linejoin="round"/>
<path d="M265,161.25 266.7,160.07 268.85,160.09 270.7,159.3 272.5,158.4 273.85,157.21 274.97,155.75 276.91,155.25 278,153.75 279.73,152.92 280.89,151.39 282.32,150.19 283.75,149 284,147.32 284.29,145.66 285.6,144.4 287.38,142.97 289.44,141.97 291.25,140.6 292.93,139.42 295.12,139.9 296.74,138.54 298.61,137.98 300.6,137.8 302.48,136.45 305.04,137.11 307.01,136.04 309,135 310.96,135.87 313.06,135.81 315.23,135.26 317.21,136.01 319.21,136.58 321.25,136.9 322.86,135.45 325.29,135.63 326.77,133.9 328.5,132.68 330.6,132.2 332.49,131.66 333.62,129.81 335.87,129.91 337.2,128.4 338.8,127.41 340.51,126.62 342,125.42 343.75,124.7 345.63,124.54 347.48,123.96 349.4,124.3 351.53,124.42 352.92,126.34 355,126.6 356.82,127.03 358.12,128.55 360.14,128.57 361.6,129.75" fill="none" stroke="#0c0cf5" stroke-width="1.2" stroke-linejoin="round"/>
<path d="M283.75,149 285.95,148.61 287.5,147 289.36,147.55 291.02,148.4 292.2,150 294.06,150.02 295.15,148.23 296.9,148 298.96,148.13 300.56,149.55 302.5,150 303.94,151.74 304.51,154.06 306.25,155.6 307.84,157.26 308.18,159.75 310,161.25 311.94,161.42 313.72,162.27 315.48,163.19 317.5,163 319.81,162.73 322.15,162.54 324.32,161.68 326.34,160.18 328.75,160.3 330.99,160.1 332.9,158.95 334.8,157.81 336.79,156.9 339,156.6 339.77,154.51 339.62,152.31 340.4,150.23 340,148 341.77,147.46 343.48,146.8 344.7,145.3 346.87,145.72 349.02,146.23 351.25,146.25 353.15,146.18 354.95,145.42 356.96,146.22 358.75,145.3 360.53,144.34 362.65,144.3 364.61,143.84 366.25,142.5 368.15,142.5 369.94,141.52 371.93,142.31 373.75,141.6 375.6,142.07 377.56,141.58 379.46,141.6 381.25,142.5 383.13,142.85 385.13,142.41 386.9,143.4 388.02,145.39 390.03,146.47 391.6,148" fill="none" stroke="#0c0cf5" stroke-width="1.2" stroke-linejoin="round"/>
<path d="M433.1,217.2 433.12,219.56 433.72,221.75 435,223.75 434.64,225.7 436.07,227.43 435.54,229.39 435.9,231.25 435.54,233.39 434.91,235.47 435.02,237.71 434,239.7 433.24,241.82 431.77,243.49 430.91,245.54 429.4,247.2 428.03,248.43 427.03,250.1 425.56,251.2 423.75,251.9 422.55,253.63 422.02,255.69 421,257.5 422.36,258.47 423.75,259.4 423.72,261.33 424.59,263.1 424.7,265 423.99,266.98 421.9,267.87 421,269.7 421.17,271.59 421.37,273.47 421.9,275.3 419.51,275.6 417.2,276.25 417.5,278.45 419.25,279.93 420,281.9 421.19,283.15 422.8,283.75 422.69,285.66 422.09,287.5 421.9,289.4 420.42,290.78 419.51,292.65 418,294 418.24,295.92 417.3,297.61 416.9,299.4 415.82,301.14 415.21,303.09 414.63,305.04 413.58,306.8 413,308.75 411.97,310.5 410.6,311.91 409.06,313.17 407.5,314.4 405.36,315.11 403.93,317.03 402.09,318.26 400.21,319.4 398,320 397.35,321.99 395.87,323.34 394.4,324.7 396.22,325.73 397.92,327 400,327.5 401.58,328.69 402.94,330.11 404.42,331.4 405.6,333 407.22,334.23 408.13,336.17 409.79,337.36 411.25,338.75 412.8,340.43 414.24,342.19 415,344.4 416.1,346.1 417.58,347.42 418.85,348.95 420.6,350 422.66,350.84 424.26,352.41 425.81,354.06 428,354.7 429.35,355.98 430.45,357.57 432.63,357.84 433.75,359.4 433.71,361.2 435.6,362.22 435.6,364 433.8,365.42 432.27,367.22 429.72,367.58 427.96,369.05 426.25,370.6 424.11,370.7 422.34,371.7 420.39,372.26 418.75,373.59 416.9,374.4 415.26,374.58 414.4,376 414.03,377.85 414.63,379.7 413.69,381.55 414.4,383.4 413.38,385.16 412.42,386.97 411.39,388.72 409.7,390 409.51,391.88 409.68,393.81 408.34,395.54 408.75,397.5 408.4,399.76 409.8,401.77 409.7,404 408.45,405.47 406.54,405.9 405,406.9 402.9,406.39 401.25,405" fill="none" stroke="#0c0cf5" stroke-width="1.2" stroke-linejoin="round"/>
<path d="M420,258.4 418.08,258.33 416.18,258.39 414.44,259.62 412.5,259.4 410.3,259.63 408.95,261.61 406.76,261.87 405,263 403.41,264.52 401.07,264.61 399.62,266.39 397.5,266.9 395.49,267.55 393.6,268.45 391.7,269.32 390,270.6 388.56,271.99 386.64,272.83 385.02,274.01 384.38,276.31 382.5,277.2 380.62,277.37 378.68,276.92 376.84,277.44 375,278 373.15,278.42 371.32,278.96 369.4,279 367.22,279.34 365.93,281.46 363.6,281.5 361.9,282.8 359.87,282.87 358.29,284.41 356.33,284.73 354.46,285.32 352.5,285.6 350.62,285.79 348.78,286.3 346.8,285.76 345,286.6 342.9,286.7 341.35,288.26 339.17,288.15 337.5,289.4 335.9,290.88 334.01,291.75 331.77,291.88 330,293 327.85,292.29 325.66,291.99 323.4,292.2 320.94,292.46 318.85,293.57 316.9,295 315.15,296.03 313.02,296.06 311.05,296.5 309.4,297.8 306.99,298.18 304.7,297.36 302.3,297.64 300,296.9 298.3,295.24 297.5,293 295.13,293.28 292.72,293.25 290.3,293.04 288,294 286.09,295.47 283.73,295.93 281.6,296.9 279.56,297.89 278.29,299.65 277.02,301.42 275.81,303.24 273.88,304.34 272.5,306 270.16,305.75 268.06,304.59 265.81,303.98 263.46,303.76 261.25,303 259.14,303.83 257.58,305.52 255.65,306.64 253.75,307.8 251.94,309.12 251.16,311.35 249.79,313.06 248,314.4 246.11,315.02 244.34,315.93 242.25,316.04 240.74,317.63 238.75,318 236.98,319.36 235.36,320.96 233.16,321.66 231.25,322.8 229.46,323.63 227.53,323.99 225.53,324.1 223.97,325.7 221.9,325.6" fill="none" stroke="#0c0cf5" stroke-width="1.2" stroke-linejoin="round"/>
<path d="M323.4,292.2 324.23,294.41 324.08,296.9 324.85,299.13 326,301.25 325.81,303.61 324.26,305.61 324,307.95 324.26,310.43 323,312.5 322.95,314.59 324.55,316.15 325.08,318.05 325.51,319.99 326,321.9 326.42,323.81 327.64,325.48 327.38,327.59 327.72,329.52 328.75,331.25 329.19,333.13 329.25,335.11 329.96,336.92 330.6,338.75 328.81,340.33 327.8,342.5 325.75,343.59 323.49,343.97 321.25,344.4 320.03,345.63 319.16,347.23 317.5,348 316.79,350.23 317.3,352.47 317.5,354.7" fill="none" stroke="#0c0cf5" stroke-width="1.2" stroke-linejoin="round"/>
<path d="M359,250.4 360.81,249.93 362.11,248.4 363.76,247.6 365.6,247.2 367.55,246.26 369.03,244.48 371.44,244.35 373.31,243.26 374.65,241.25 377.01,241.01 378.75,239.7 380.6,238.96 382.53,238.41 384.55,238.11 386.42,237.42 388,236 389.84,234.93 392.03,234.56 393.89,233.53 395.6,232.2 397.55,231.41 398.09,229.03 400.48,228.73 401.24,226.61 403,225.6 404.32,224.19 406.27,223.86 407.8,222.8 409.05,224.46 410.5,225.87 412.5,226.6 414.5,227.84 416.25,229.4 418.31,229.1 419.73,227.23 422.12,227.77 423.61,226.07 425.6,225.6 427.05,224.5 428.07,222.86 429.41,221.62 431.25,221 431.51,218.78 433.1,217.2" fill="none" stroke="#0c0cf5" stroke-width="1.2" stroke-linejoin="round"/>
<path d="M328.75,340.6 330.52,341.75 332.36,342.77 334.07,344.06 336.25,344.4 338.38,345.22 340.37,346.25 341.9,348 343.48,349.82 345.8,350.68 347.64,352.16 349.4,353.75 351.11,354.9 353.32,354.73 354.81,356.46 356.9,356.6 358.78,357.75 360.99,358.38 362.19,360.62 364.4,361.25 365.73,362.52 367.61,363.14 368.27,365.2 370,366 368.22,367.49 366.79,369.27 365.6,371.25 364.25,373 362.67,374.61 362.77,377.26 361,378.75 360.04,380.99 360.29,383.35 360.62,385.73 360,388 361.11,390.01 362.7,391.7 363.75,393.75 365.49,395.34 367.32,396.82 369.35,398.02 371.25,399.4 373.49,400.32 375.1,402.07 377.05,403.36 378.75,405 380.07,406.54 381.44,408 383.4,408.75 385.27,409.29 387.2,409" fill="none" stroke="#0c0cf5" stroke-width="1.2" stroke-linejoin="round"/>
<path d="M435.6,362.2 437.89,361.38 440.24,361.17 442.66,361.63 445,361.25 447.06,360.52 449.18,360.2 451.35,360.45 453.47,360.13 455.6,360 457.57,359.08 459.7,358.84 461.92,359 463.74,357.46 465.82,357.04 468,357 469.64,355.19 471.8,354.27 473.69,352.88 476.37,352.82 478,351" fill="none" stroke="#0c0cf5" stroke-width="1.2" stroke-linejoin="round"/>
<path d="M325.3,418 327,416.5 327.69,418.03 328.5,419.5 330,420 330.82,418.61 332,417.5 333.1,418.7 334.7,419 335.65,420.64 336,422.5 337.01,421.76 338,421 338.92,422.77 339.4,424.7 340.52,425.24 341.5,426 340.55,427.38 341,429 343,430.3 344.18,429.56 345.5,430 346.28,431.97 346.9,434 347.71,432.91 349,432.5 349.96,434.16 350.5,436 352.5,436 353.89,435.13 354,433.5 355.22,435.12 356,437 358,437.8 359.13,436.49 360,435 361.84,434.38 363.75,434 364.68,432.9 365,431.5 366.3,432.44 367.5,433.5 368.69,432.4 370.3,432.2 371.45,432.76 372.5,433.5 373.38,435.14 374,436.9 373.08,438.32 373,440 373.93,441.31 375,442.5 376.02,441.36 377.5,441 377.49,442.79 378,444.5 379.29,444.15 380.6,444.4 380.03,446.19 379.5,448 380.6,450 380.17,451.7 379,453 380.09,453.91 381,455 382.37,453.46 383,451.5 384.14,452.17 385.3,452.8 386.14,450.75 386.61,448.62 386.7,446.4 387.92,445.81 389,445 390.3,445.56 391.7,445.7 392.49,447.29 393,449 394.1,450.95 395.5,452.7 397.72,453.26 400,453 402.06,453.18 403.42,455.08 405.5,455.2 407.14,453.93 409,453 411.13,452.97 413,454 414.93,453.23 417,453.5 418.9,454.77 420.5,456.4 422.9,456.32 425,457.5 426.96,458.71 428.81,460.06 430.6,461.5 432.38,462.32 434.3,462.7 435.84,461.41 437.86,460.71 439.17,459.14 440.6,457.7 441.93,456.57 443.83,456.38 445,455 446.86,455.37 448.71,455.83 450.6,455.2 451.87,456.49 453.14,457.78 455,458.2" fill="none" stroke="#0c0cf5" stroke-width="1.2" stroke-linejoin="round"/>
<path d="M10.5,154 35.1,140.2 58.9,125.7 82.7,110.1 96.5,103.9 96.24,101.35 96.5,98.8 98.33,97.89 100.41,98.22 102.3,97.6 103.42,99.34 103.3,101.4 105.75,100.88 108.13,100.05 110.46,99.03 113.05,99.11 115.33,97.85 117.9,97.85 120.21,96.75 122.8,96.8 124.04,98.93 124.1,101.4 123.56,103.29 122.8,105.1 121.72,107.49 121.6,110.1 123.32,111.69 124.1,113.9 125.1,116.3 125.3,118.9 126.84,120.48 128.2,122.28 130.3,123.2 132.66,123.22 135.01,122.85 137.41,123.61 139.71,122.12 142.1,122.7 142.64,120.5 141.78,118.3 141.57,116.1 142.1,113.9 144.01,112.73 146.17,112.37 148.46,112.48 150.4,111.4 151.82,110.68 153.4,110.9 155.1,111.88 156.81,112.84 158.74,113.35 160.4,114.4 162.88,115.01 165.54,114.84 168.04,115.37 170.49,116.13 172.9,117.1 174.6,118.37 176.62,119.07 178.4,120.2 178.88,122.68 178.67,125.21 179.07,127.69 179.2,130.2 181.36,130.3 183.32,131.43 185.5,131.4 187.68,130.84 189.49,129.38 191.7,128.9 192.24,131.08 193,133.2 194.89,132.49 196.96,132.22 198.75,131.27 200.5,130.2 202.19,128.57 204.68,128.03 205.79,125.61 208,124.7 210.47,123.91 213.1,123.74 215.5,122.7 217.27,121.12 219.53,120.45 221.22,118.74 223.7,118.44 225.6,117.1 227.32,115.49 228.4,113.4 230.21,111.61 232.28,110.05 233.4,107.61 235.55,106.13 237.17,104.16 238.8,102.2 237.94,100.44 236.81,98.83 235.9,97.1 238.45,97.36 240.97,97.26 243.4,96.31 245.92,96.35 248.33,95.19 250.9,95.6 251.57,97.82 252.8,99.8 255.07,99.94 257.35,100.38 259.6,100.04 261.83,99.16 264.1,99.4 264.38,97.02 265,94.7 264.03,92.9 262.07,91.82 261.43,89.78 260.3,88.1 259.09,85.88 258.28,83.54 258.1,81 260.02,79.38 262.67,79.31 264.47,77.42 266.9,76.9 268.99,75.97 271.23,75.61 273.59,75.74 275.48,74.02 277.8,73.99 280,73.5 279.55,75.85 278.67,78.13 278.39,80.5 277.94,82.85 278.1,85.3 280.5,84.84 282.92,84.92 285.33,84.7 287.79,85.36 290.21,85.34 292.56,84.01 295,84.4 295.5,81.87 296.9,79.7 298.86,78.09 301.03,76.82 303.4,75.9 304.56,74.26 305.86,72.73 306.64,70.82 308.1,69.4 309.81,68.18 311.9,68.4 314.13,69.56 316.33,70.76 318.4,72.2 319.26,74.59 320.3,76.9 318.96,78.54 318.63,80.55 318.18,82.52 317.5,84.4 315,84.22 312.5,84.14 310,84.4 310.46,86.18 309.6,87.8 311.47,88.82 313.51,89.08 315.6,89.1 318.23,89.41 320.79,89.04 323.31,88.19 325.9,88.1 327.57,89.39 329.43,90.46 330.6,92.3 332.18,90.68 332.94,88.39 334.37,86.64 336.3,85.3 337,83.02 338.02,80.9 339.34,78.94 340.04,76.66 341.05,74.54 342.8,72.8 344.09,71.99 345.6,72.2 347.64,73.14 349.03,74.84 351.01,75.86 352.2,77.8 352.47,80.19 353.64,82.26 354.6,84.4 353.97,86.81 352.73,88.9 351.3,90.9 351.53,92.35 351.3,93.8 353.07,95.28 354.95,96.65 355.8,99.05 357.8,100.3 357.55,102.59 358.8,104.54 359.25,106.67 359.7,108.8 362.21,107.93 364.79,107.71 367.4,107.82 370,107.8 371.68,109.49 372.8,111.6 372.56,113.76 373.8,115.74 374.26,117.82 373.8,120 376.06,120.6 378.28,119.88 380.5,119.23 382.76,119.74 385,119.6 385.94,117.86 387.8,117.2 390.15,117.47 392.43,118.36 394.8,118.42 397.2,118.1 398.94,117.24 400.13,115.61 401.9,114.8 403.35,113.57 404.75,112.25 406.6,111.6 408.8,112.88 411.3,113.4 412.41,115.08 413.26,116.94 414.96,118.2 415.9,120 416.56,122.05 415.94,124.26 415.93,126.39 416.9,128.4 418.5,129.96 420.4,131 422.26,132.11 424.18,133.11 426.44,133.55 428.1,135 430.59,135.66 433.15,136.06 435.6,136.9 437.57,135.74 439.7,135.26 441.9,135.15 444.1,135 445.36,136.71 445.71,138.86 446.9,140.6 449.19,140.98 451.29,139.92 453.5,139.7 454.38,141.95 456.3,143.4 454.74,144.59 453.85,146.18 453.5,148.1 453.67,150 453.85,151.91 453.4,153.8 452.23,155.34 450.83,156.61 449.1,157.5 448.93,160.1 447.9,162.5 446.47,164.5 444.85,166.39 444.1,168.8 444.26,171.43 445.4,173.8 444.16,175.49 442.68,176.99 441.6,178.8 440.57,180.56 440.4,182.6 442.38,184.06 443.4,186.3 441.81,187.39 440.13,188.37 439.1,190.1 437.87,192.04 437.08,194.16 436.6,196.4 435.05,197.68 433.75,199.28 431.61,199.81 430.3,201.4 429.87,203.16 428.55,204.57 428.3,206.4 428.29,208.71 429.78,210.55 430.3,212.7 432.57,213.72 434.7,215 434.7,217.08 435.65,218.84 436.6,220.6 436.44,222.94 435.87,225.15 434.7,227.2 436.57,226.68 438.43,227.81 440.3,227.2 442.19,225.96 443.06,223.69 445,222.5 446.26,224.15 447.68,225.59 449.7,226.3 451.53,226.83 453.47,226.68 455.3,227.2 457.2,226.33 458.79,224.84 460.9,224.4 463.29,225.56 464.7,227.8 466.71,228.09 468.48,227.22 470.3,226.6 472.42,226.94 474.46,227.84 476.69,227.4 478.8,227.8 479.56,230.09 480.85,232.06 482.5,233.8 484.85,233.37 487.2,233.43 489.55,233.49 491.9,233.8 493.47,235.77 494.25,238.2 495.6,240.3 497.21,241.78 498.34,243.63 500,245.06 500.39,247.48 502.2,248.8 502.12,250.7 501.66,252.54 501.3,254.4 503.48,254.53 505.67,255.01 507.85,254.28 510.03,255.03 512.22,254.4 514.4,254.4 513.09,256.54 511.84,258.72 510.6,260.9 509.59,263.26 507.54,264.76 505.9,266.6 505,268.17 503.96,269.59 502.2,270.3 502.73,272.82 504.1,275 506.04,276.55 507.26,278.71 508.8,280.6 511.3,280.94 513.8,280.68 516.3,280.6 518.86,280.98 521.29,281.89 523.8,282.5 524.32,284.39 524.59,286.36 525.6,288.1 527.85,289.02 529.4,290.9 529.06,293.01 529.27,295.19 528.98,297.31 528.4,299.4 527.41,301.14 527.19,303.13 526.6,305 525.6,306.6 527.44,308.24 529.15,310.03 531.3,311.3 532.05,313.22 533.83,314.31 535,315.9 534.39,317.76 534.1,319.7 531.75,319.24 529.4,318.8 527.53,319.08 525.62,319.11 523.8,319.7 522.58,320.98 521.23,322.13 520,323.4 519.4,325.61 518.1,327.62 518.1,330 516.09,330.68 514.09,331.4 512.18,332.26 510.6,333.8 509.21,335.47 507.29,336.53 505.29,337.5 504.1,339.4 503.89,341.64 505.24,343.66 505,345.9 506,347.67 505.9,349.7 504.06,350.42 502.37,351.57 500.3,351.6 501.18,353.87 501.3,356.3 500.9,358.27 499.4,359.6 497.7,359.35 496,359.6 495.72,358.2 494.7,357.2 495.72,355.98 495.6,354.4 493.57,354.26 491.97,352.83 490,352.5 488.43,353.73 487.2,355.3 484.98,354.33 483.4,352.5 483.5,350.92 482.5,349.7 480.11,349.66 478.22,351.37 475.9,351.6 474.93,353.67 475.45,355.95 475,358.1 473.14,359.38 470.85,360.03 469.4,361.9 467.75,363.15 467.26,365.35 465.6,366.6 465.4,368.78 464.98,370.93 464.7,373.1 463.6,374.54 462.49,375.96 460.9,376.9 461.17,378.77 460.57,380.63 460.9,382.5 460.08,384.83 458.1,386.3 457.19,388.34 456.52,390.47 455.6,392.5 454.95,394.8 453.31,396.44 451.69,398.1 450.6,400.1 449.35,401.76 448.66,403.82 446.9,405.1 445.42,406.4 444.85,408.17 444.4,410 444.16,412.06 445.3,413.8 447.23,414.57 448.65,415.99 450,417.5 448.57,419.45 446.3,420.3 445.55,422.09 445.97,424.09 445.3,425.9 446.18,428.02 446.08,430.28 446.3,432.5 447.97,433.72 449.88,434.22 451.9,434.4 453.33,436.09 454.59,437.89 454.72,440.36 456.29,441.97 457.5,443.8 458.17,446.21 459.4,448.4 461.74,448.44 463.92,449.03 465.9,450.3 464.71,452.39 464.14,454.74 463.1,456.9 465.38,457.78 466.9,459.7 467.27,461.85 468.8,463.4 467.36,465.5 465.87,467.57 465,470 464.26,471.95 462.11,472.8 461.3,474.7 462.79,475.93 462.7,478.11 464.1,479.4 462.49,480.63 460.94,481.95 459.1,482.86 457.5,484.1 455.08,483.13 452.45,483.78 450,483.1 449.17,484.75 447.5,485.61 446.3,486.9 443.75,486.96 441.22,486.81 438.8,485.9 437.11,487.1 435.29,487.98 433.34,488.49 431.3,488.8 430.28,491.11 429.02,493.28 427.5,495.3 425.81,494.02 423.63,493.72 421.9,492.5 420.03,493.77 418.44,495.43 416.3,496.3 414.16,497.12 412.09,498.2 409.7,498.1 408.42,496.42 407.8,494.4 407.42,492.41 408.81,490.73 408.8,488.8 407.9,487.19 406.47,485.91 405.9,484.1 405.26,482.21 405.32,480.1 404.1,478.4 402.12,477.29 401.3,474.99 399.4,473.8 397.15,472.62 395,471.27 392.8,470 390.65,470.85 389.16,472.67 387.2,473.8 386.76,471.9 386.3,470 387.77,468.29 389.37,466.67 390,464.4 388.28,463.32 387.18,461.48 385.3,460.6 383.95,458.81 382.31,457.32 380.6,455.9 378.76,456.37 376.91,456.79 375,456.9 372.82,457.31 370.73,456.95 368.62,456.79 366.6,455.9 366.45,453.96 365.6,452.2 363.62,451.91 361.7,451.41 360,450.3 358.52,448.7 358.61,446.32 357.72,444.43 356.3,442.8 354.17,441.92 351.81,441.85 349.7,440.9 347.35,440.32 345.18,439.32 343.1,438.1 341.19,436.58 339.04,435.36 337.5,433.4 335.01,433.81 332.55,434.42 330,434.4 327.42,434.01 324.92,434.3 322.5,435.3 323.04,433.22 323.08,431.02 324.61,429.15 324.4,426.9 323.2,424.81 322.34,422.58 321.6,420.3 322.25,418.27 323.93,417.06 325.3,415.6 325.26,413.45 325.3,411.3 324.05,409.12 322.41,407.17 321.56,404.77 320.3,402.6 317.82,401.97 315.92,400.37 314,398.8 314.18,396.34 315.38,394.23 315.63,391.8 316.36,389.53 317.8,387.5 318.1,386.25 318.46,384.48 318.99,382.77 320,381.25 319.16,379.32 318.1,377.5 320.02,376.29 321.9,375 321.95,372.45 321.25,370 323.2,369.6 325,368.75 325.62,366.62 325.6,364.4 327.25,363.55 328.1,361.9 326.42,360.1 325,358.1 322.46,357.96 320.11,356.58 317.5,356.9 315.89,358.44 313.58,358.78 311.77,359.98 310,361.25 309.79,363.41 307.87,364.81 307.5,366.9 305.08,367.87 303.22,369.64 301.25,371.25 300.09,373.2 299.15,375.24 298.75,377.5 299.7,379.91 299.55,382.51 300,385 299.58,387.08 298.67,389.07 298.75,391.25 300.3,391.3 297.98,391.49 295.77,392.08 293.67,393.05 291.5,393.8 289.14,393.86 287.03,394.79 284.82,395.4 282.7,396.3 281.01,397.61 279.27,398.83 277.32,399.64 275.2,400.1 273.09,401.34 271.06,402.73 268.38,402.8 266.4,404.3 264.43,403.62 262.46,402.92 260.45,402.32 258.48,401.64 256.4,401.3 254.19,400.36 251.7,400.08 249.98,398.04 247.6,397.5 245.04,397.57 242.6,398.36 240.1,398.8 237.59,399.18 235.06,399.43 232.6,400.1 230.56,398.99 229.7,396.7 227.61,395.64 226.3,393.8 224.87,391.94 224.31,389.73 223.8,387.5 224.63,385.93 224.38,384.04 225.3,382.5 227.17,381.92 229.03,381.33 230.4,379.8 232.46,379.12 234.48,378.3 236.6,377.8 235.34,375.72 234.37,373.46 232.9,371.5 231.95,369.59 230.51,368.06 229.1,366.5 227.14,365.08 224.64,364.58 222.9,362.8 223.75,361.16 225.1,360.01 226.6,359 226.56,356.83 225.51,354.85 225.4,352.7 226.12,350.86 225.96,348.72 226.65,346.87 227.9,345.2 229.32,343.29 231.42,342.05 232.9,340.2 234.15,338.68 235.13,337 235.9,335.2 233.99,335.07 232.24,334.31 230.4,333.9 229.11,332.08 227.9,330.2 226.67,331.47 225.77,333.08 224.1,333.9 224.69,331.83 223.65,329.77 224.1,327.7 222.37,325.82 220.24,324.61 217.8,323.9 215.62,322.75 214.42,320.61 212.8,318.9 211.4,317.4 209.85,316.11 207.8,315.6 205.32,316.34 202.89,317.27 200.3,317.6 198.57,318.66 196.33,318.27 194.82,319.96 192.8,320.2 190.33,319.43 187.8,318.9 185.71,318.57 184.06,317.22 182.45,315.8 180.3,315.6 177.82,316.35 175.21,315.52 172.72,316.19 170.2,316.4 168.74,318.24 168.07,320.43 167.79,322.79 166.5,324.7 165.69,322.82 163.95,321.71 162.7,320.2 160.82,318.47 159.53,316.38 158.9,313.9 159.54,311.4 160.2,308.9 160.23,306.64 160.1,304.37 159.96,302.1 160.37,299.85 160.7,297.6 159.46,296.08 159.14,294 157.7,292.6 155.83,291.14 155.51,288.64 154.37,286.69 152.7,285.1 150.1,285.23 147.81,283.6 145.2,283.8 142.67,283.48 140.13,283.2 137.6,283.8 137.73,281.8 138.28,279.89 138.9,278 136.79,277.99 134.76,276.92 132.6,277.5 131.27,278.67 130.28,280.18 128.9,281.3 126.73,282.03 124.59,282.87 122.49,283.83 120.1,283.8 117.89,283.05 116.63,280.88 114.3,280.32 112.6,278.8 112.25,276.34 110.35,274.55 109.43,272.34 108.8,270 108.36,267.56 107.42,265.21 107.23,262.72 107.63,260.11 106.5,257.8 106.09,255.67 105.07,253.84 103.9,252.09 102.8,250.3 103.99,248.59 104,246.5 105.08,244.53 104.94,242.31 105.3,240.2 103.54,238.98 101.2,238.96 99.75,237.11 97.7,236.5 97.23,234.41 97.27,232.23 96.5,230.2 95.44,227.89 93.72,225.96 92.16,223.93 91.5,221.4 89.15,220.18 86.5,220.2 84.95,222.14 82.7,223.2 80.2,222.99 77.7,222.7 75.25,223.53 72.7,223.9 70.65,225.41 68.12,226.09 65.75,227.03 63.9,228.9 63.4,231.13 62.02,233.01 61.4,235.2 60.34,236.68 58.81,237.67 57.6,239 55.86,238.31 54.04,237.78 52.6,236.5 50.57,235.19 48.96,233.48 47.6,231.5 46.48,229.5 44.5,228.35 42.65,227.07 41.4,225.2 39.83,223.44 38.01,222.08 35.66,221.51 33.8,220.2 32.1,218.37 30.94,216.23 30.1,213.9 27.73,213.87 25.64,212.88 23.33,212.62 21.3,211.4 19.72,209.74 18.5,207.85 17.64,205.72 16.3,203.9 17.48,202.21 17.91,200.27 18.05,198.23 18.8,196.4 18.24,194.33 17.97,192.19 17.5,190.1 18.61,187.9 19.83,185.77 21.3,183.8 19.5,182.29 18.52,180.24 18.13,177.79 16.3,176.3 14.95,174.44 14.64,172.16 13.8,170.1 13.67,167.87 13.69,165.62 12.4,163.56 12.5,161.3 11.5,158.96 10.8,156.53Z" fill="none" stroke="#1c1c1c" stroke-width="1.55" stroke-linejoin="round"/>
<ellipse cx="331.3" cy="82" rx="2.2" ry="3.4" fill="#111" transform="rotate(32 331.5 82.2)"/>
<circle cx="498.1" cy="358.6" r="2.1" fill="none" stroke="#1c1c1c" stroke-width="1.4"/>
</g></defs>
<g clip-path="url(#bel)">
<rect x="0" y="60" width="540" height="447" fill="#fee391"/>
<path d="M261.9,83.8 269.4,87.1 278.2,95.1 285.7,104.6 294.5,107.6 320.1,107.6 315,107.6 318,110.1 318,130.2 315,132.7 300,132.7 320.1,135.2 269.4,135.2 260.7,138.9 251.9,138.2 246.9,132.7 241.9,126.4 233.1,122.7 225.6,119.6 223.1,110.1 233.1,92.6 255.6,92.6 255.6,85.1Z" fill="#ffffcc"/><path d="M472.9,283.8 486.7,277.5 500.5,276.3 514.3,282.1 518,290.1 524.3,293.8 529.3,292.6 540.6,292.6 540.6,360.3 475.7,380 475.7,505.3 310.3,505.3 310.3,387.5 320.3,387.5 340.4,388.8 350.4,395 360.4,397.5 370.4,403.8 375.4,406.3 400.5,405.1 415.5,407.6 420.6,415.1 426.8,411.3 428.6,400.1 438.1,392.5 441.9,385 444.4,380 444.1,380.3 440.4,372.8 441.6,365.3 436.6,360.3 430.3,352.7 429.8,346.5 431.6,341.5 440.4,337.7 447.9,340.2 460.4,337.7 472.9,336.4 475.4,332.7 472.9,327.7 467.9,322.7 472.9,318.9 471.7,292.6Z" fill="#ffffcc"/><path d="M282.7,391.3 286.5,385 294,385.5 300.3,390.5 305.3,391.3 305.3,400.1 282.7,400.1Z" fill="#ffffcc"/><path d="M22.3,146.3 26,146.3 26,149.6 22.3,149.6Z" fill="#ffffcc"/>
<path d="M95.2,235.2 104,223.9 112.8,215.2 117.8,207.6 120.3,197.6 121.1,177.6 130.3,167.5 142.9,166.3 150.4,158.8 159.1,165 185.5,164.5 198,158.8 208,160 220.6,166.3 231,170.6 250,172.5 265,177.5 273.75,178.75 282.5,175.6 285,172 285,167.25 297,167.25 297.25,173.75 303.75,177.5 308.75,176.25 313,173 313.75,167.25 343.75,167 350,164.4 355,162.25 372.7,162.3 380,165.3 390,166.5 396.5,162.8 405,155 412.8,147.7 414,140 420,131.4 424,126 470,125 470,200 450,215 530,230 530,253 504.3,253.3 494.2,252.8 484.2,257.8 475.4,266.5 465.4,271.6 457.9,276.3 455.4,283.8 447.9,291.3 440.4,301.4 431.6,308.9 422.8,321.4 415.3,333.9 410.3,344 411.5,350.2 407.8,357.7 400.3,362.8 387.7,367.8 382.7,374 362.7,375.3 350.1,371.5 340.1,366.5 338.8,360.3 342.6,351.5 332.6,344 327.6,338.2 318.8,344 311.3,341.5 300,332.7 293,333.9 280.5,347.7 279.2,355.2 270.5,356.5 264.2,362.8 264.2,376.5 260.5,382.8 230.4,382.8 225.4,385.3 220.4,385.3 215.3,335.2 155.2,327.7 105.1,290.1 102.6,260Z" fill="#fdae4b"/><path d="M21.3,183.8 36.3,185.1 37.6,193.9 46.4,196.4 48.9,206.4 56.4,210.2 65.2,206.4 73.9,206.4 74.7,221.4 74.7,232.7 57.6,245.2 10,212.7 10,183.8Z" fill="#fdae4b"/><path d="M150,128.75 161.75,128.75 161.75,140 150,140Z" fill="#fdae4b"/>

<path d="M129.4,245 131.9,240 141.25,231.25 145,231.25 146.9,233.1 151.25,233.75 157.5,231.25 162.5,226.9 168.1,223.1 175,214.4 178.75,211.9 198.75,191.9 201.9,196.25 203.75,204.4 203.5,208.75 198.1,212.5 196.25,215 196,220.6 196.25,230.6 210,230 213.1,226.9 220,220 228.1,220 233.75,226.25 234,236.25 240,242.5 243.75,248.75 248,257.8 283.2,257.8 291.9,253 298.75,246.25 305,240 311.25,232.5 312.5,225 315,220 335,220 340,214.4 341.25,195 347.5,189 358.9,190 366.4,197.6 377.5,198.75 385,200 390,202.5 400,204 410,208.9 420.3,200 431.6,192 436.6,196.4 442,200 440,222 436,225 435.3,225.2 431.6,232.7 427.8,241.5 424,250.25 422.8,257.8 424,260 422.8,275 421.6,287.6 417.8,297.6 416.5,302.6 412.8,311.4 405.3,320.2 396.5,325.7 390.2,323.9 382.7,317.6 375.2,306.4 366.4,297.6 358.9,291.3 353.9,283.8 345.1,278.8 337.6,272.5 331.3,274.5 325,281.3 315.6,289.6 288,289.6 284.3,287.6 278,281.3 264.2,281.3 252.9,293.8 245.4,298.8 244.2,303.9 252.9,308.9 246.7,313.9 240.4,318.1 230.4,322.2 222.9,325.7 220,330 200,324 194,323 194,317.6 194,301.4 202.8,298.8 211.6,295 211.6,291.3 202.8,282.6 190.3,282.6 180.3,286.3 162.7,276.3 141.4,270 135.1,260 132.8,250.25Z" fill="#fc6b33"/><path d="M160.7,297.6 167.7,297.1 176.5,301.4 177.7,313.9 176.5,316.4 166.5,327.7 157.7,320.2 157.7,297.6Z" fill="#fc6b33"/><path d="M464.7,233.75 468,224 482,223 486,230 494,231 494,238.4 480.6,239 478.75,240.3 469.4,240.3 464.7,236.6Z" fill="#fc6b33"/>
<path d="M224.1,292.6 227.9,290.1 239.1,290.1 242.4,293.1 239.1,296.3 227.9,296.3Z" fill="#fdae4b"/>
<path d="M360.2,249 361.9,245.6 365,242.5 368.75,238.75 372.5,237.25 391.9,236.5 391.9,243.75 401.5,244.5 401.5,256.5 396.5,264 392.7,269 391.5,272.5 391.5,283 373.2,283 372.7,275 367.7,271.3 361.4,266.3 360.2,260Z" fill="#e31a1c"/>
</g><use href="#lines"/>
<g transform="translate(640,0)"><g clip-path="url(#bel)">
<rect x="0" y="60" width="540" height="447" fill="#fff0bf"/>
<path d="M131.6,124.7 136.6,132.7 142.9,140.2 145.4,147.7 142.9,155.2 135.3,161.5 130.3,167.8 122.8,176.5 121.6,187.1 120.3,195.1 119,203.9 114,215.2 107.8,225.2 100.3,228.9 96.5,230.2 90.2,250.3 50.1,250.3 7.5,215.2 5,150 5,150.2 25.1,135.2 95.2,95.1 125.3,92.6 127.8,110.1Z" fill="#f8f8e4"/><path d="M179.2,130.7 178.4,137.7 172.9,145.2 169.2,151.5 171.7,156.5 180.5,152.7 198,147.7 204.3,140.2 208,132.7 218,130.2 230.6,131.4 240.6,130.7 248.1,130.2 250.6,142.7 260.7,140.2 270.7,135.2 285.7,132.7 304.5,131.4 307,127.7 300.8,121.4 285.7,118.9 278.2,107.6 269.4,95.1 265.7,91.3 263.2,87.6 255.6,85.1 255.6,92.6 233.1,92.6 225.6,112.6 200.5,126.4 190.5,125.2 183,127.7 175.4,127.7Z" fill="#f8f8e4"/><path d="M505.5,270 490.5,277.5 475.4,281.3 467.9,287.6 464.2,297.6 459.1,306.4 457.9,315.1 450.4,318.9 442.9,327.7 432.8,332.7 425.3,337.7 422.8,345.2 425.3,352.7 430.3,360.3 427.8,367.8 420.3,372.8 410.3,377.8 401.5,375.3 396.5,380.3 396.5,387.1 395.5,385 390.5,390 370.4,390 360.4,385 350,380 347.5,378.75 340,374.4 332.5,370 335,366.25 340,360 343.75,355 340,351.25 335,346.25 330,342.5 322.5,341.9 315,343.1 307.5,341.25 300,339.4 292.5,341.9 283.75,348.75 280,356.9 269.4,361.25 273.1,367.5 273.75,375 272.7,383.8 265,390 255,392.5 240,392.5 230,388.8 226.3,382.5 215,385 215,520 560,520 560,270Z" fill="#f8f8e4"/>
<path d="M181.7,142.7 183,135.2 189.2,135.2 194.2,140.2 193,145.2 185.5,145.2Z" fill="#fff0bf"/>
<path d="M7.5,152.7 67.7,117.6 68.9,121.4 66.4,127.7 61.4,133.9 58.9,141.5 50.1,146.5 47.6,155.2 43.9,162.8 37.6,170.3 25.1,172.8 16.3,171.5 13.8,167.8 7.5,167.8Z" fill="#d9d9d9"/><path d="M243.4,94 250.4,94 251.5,108.75 249,113.4 245.3,111.6 239.7,108.75 241,104Z" fill="#d9d9d9"/><path d="M447.9,382.8 460.4,374 470.4,374 475.7,380 475.7,505.3 317.8,505.3 317.8,413.8 326.6,413.8 330.3,408.1 344.1,407.6 347.9,412.6 349.1,422.6 351.6,428.9 360.4,430.1 372.9,433.1 380.5,434.6 395.5,433.9 408,431.4 418,426.4 426.8,418.8 435.6,415.1 444.4,411.3 445.6,400.1 448.1,387.5 450.6,380Z" fill="#d9d9d9"/><path d="M506.8,323.9 509.3,322.7 510,331.4 506,333.9Z" fill="#d9d9d9"/><path d="M449.4,351 458.75,350 462.5,354.7 464.4,364 459.7,366.9 456.9,360.3 454,355.6Z" fill="#d9d9d9"/>
<path d="M405.5,466.5 410.5,464 433.1,465.2 448.1,462.7 453.1,464 458.1,472.7 465.7,479 459.4,485.8 450.6,484.8 446.9,485.3 440.6,484 426.8,481.5 418,480.3 410.5,476.5 406.8,471.5Z" fill="#a6a6a6"/>
<path d="M125.3,245.2 130.3,235.2 136.6,225.2 137.8,212.7 140.4,202.6 147.9,193.9 160.4,187.6 170.4,185.1 180.5,181.3 193,177.6 208,176.3 218,181.3 228.1,178.8 240.6,178.8 255.6,180.1 263.2,185.1 273.2,185.1 275.7,179 284.5,172.8 283.2,165.3 288.2,159 297,159 304.5,165.3 312,160.3 315.8,155.2 320.1,151.5 325.1,147.7 335.1,146.5 350.1,147.2 370.2,146.5 380.2,150.7 390.2,149.7 396.5,142.7 400.3,135.2 401.5,127.7 407.8,122.7 411.5,117.6 420.3,117.6 460.4,135.2 460.4,187.1 460.4,187.6 440.4,212.7 475.4,221.4 500.5,232.7 508,251.5 503,252.8 493,253.3 483,257.8 472.9,266.5 460.4,271.6 454.1,277.1 456.6,275 454.1,283.8 447.9,291.3 437.8,297.6 430.3,307.6 424.1,317.6 415.3,325.2 407.8,330.2 400.3,338.9 390.2,337.7 382.7,327.7 375.2,320.2 362.7,316.4 350.1,312.6 335.1,308.9 325.1,311.4 312.5,310.1 300,308.9 293,310.1 285.5,316.4 278,316.4 271.7,308.9 266.7,307.6 263,315.1 260.5,330.2 255.4,337.7 257.9,342.7 252.9,350.2 242.9,354 235.4,352.7 236.6,340.2 235.9,335.2 230.4,337.7 220.4,335.2 220.4,325.2 162.7,330.2 161.9,290 161.25,285 156.25,280 150,277.5 140,275 136.25,270 133.1,263.75 130,256.25 126.9,248.75Z" fill="#fdc574"/><path d="M315,73.8 318.8,75 319.5,79.5 317.5,82.6 315,81.3Z" fill="#fdc574"/><path d="M310,87.6 315,90.8 326.3,92.1 330.1,91.6 329.6,95.1 310,92.1Z" fill="#fdc574"/><path d="M341.4,85.1 343.9,77.5 346.4,73.8 350.1,78.8 348.9,85.1Z" fill="#fdc574"/><path d="M224.1,358.2 231.6,359 231.6,362.3 224.1,362.3Z" fill="#fdc574"/>
<path d="M175.2,293.8 185.3,290.1 197.8,290.1 202.8,293.8 197.8,298.1 182.8,298.8Z" fill="#fff0bf"/>
<path d="M145.6,253.75 148,248 155,243.75 162.5,240 170,236.9 172.9,235.2 180.5,234 184.2,240.2 190.5,246.5 208,245.2 218,246.5 221.8,241.5 228.1,235.2 235.6,228.9 239.3,234 241.9,241.5 244.4,250.3 248.1,256.5 258.1,259 270.7,257.8 278.2,254 283.2,250.3 275.7,246.5 276.9,240.2 282,234 288.2,232.7 292,236.5 300.8,242.7 310.8,239 315,235.2 330.1,234 337.6,230.2 345.1,222.7 346.4,213.9 341.4,203.9 340.1,193.9 342.6,186.3 348.9,183.1 360.2,182.1 372.7,186.3 384,191.4 390.2,196.4 400.3,195.1 407.8,196.4 415.3,192.6 424.1,187.6 427.8,178.8 426.6,171.3 430.3,163.8 437.8,159.5 444.1,160 450.4,160 450.4,200.1 440.4,212.7 436.6,225.2 434.1,225.2 425.3,232.7 419,239 415.3,247.7 414,257.8 415.3,267.8 412.8,277.1 416.5,275 417.3,290.1 414,302.6 410.3,308.9 402.8,315.1 396.5,316.4 387.7,310.1 382.7,302.6 372.7,295.1 358.9,286.3 350.1,277.5 345.1,270 340.1,265 325.1,271.3 312.5,273.8 300,278 293,278.8 280.5,275 270.5,272.5 260,276.25 253.75,275.6 245,275 237.5,275.6 233.75,278 225,278.75 216.25,278 207.5,275.6 200,272.5 196.25,270 191.25,267.5 187.5,269.4 183.75,272.5 180,273 172.5,269.4 165,266.25 160,263 155,260.6 148.75,258.75Z" fill="#f68c23"/><path d="M467.9,228.9 469.2,225.2 475.4,223.9 483,227.7 484.2,232.7 480.5,237.7 472.9,236.5 467.9,232.7Z" fill="#f68c23"/><path d="M341.4,187.1 346.4,182.8 353.9,184.1 360.2,181.6 371.4,182.8 375.2,187.1 375.2,190.3 341.4,190.3Z" fill="#f68c23"/>

<path d="M362,255 367.7,245 377.7,239.7 386.5,244 396.5,252.8 397,262 396.5,268.8 387.7,277.5 382.7,279.5 375.2,275 364,266.3 362,260Z" fill="#cc4c02"/>
</g><use href="#lines"/></g>
<use href="#logo"/><use href="#logo" x="640"/>
<text x="79" y="30.5" font-size="14" font-weight="bold" textLength="154" lengthAdjust="spacingAndGlyphs">Globale zonnestraling</text>
<text x="78" y="51.7" font-size="12" textLength="103" lengthAdjust="spacingAndGlyphs">totaal winter 2026</text>
<text x="719" y="30.5" font-size="14" font-weight="bold" textLength="442" lengthAdjust="spacingAndGlyphs">Verhouding tot de normaalwaarde van de globale zonnestraling</text>
<text x="718" y="51.7" font-size="12" textLength="386" lengthAdjust="spacingAndGlyphs">totaal winter 2026 in vergelijking met de normaalwaarde 1991-2020</text>
<rect x="563" y="96.1" width="26" height="79.1" fill="#e31a1c"/>
<rect x="563" y="174.9" width="26" height="80.1" fill="#fc6b33"/>
<rect x="563" y="254.7" width="26" height="79.4" fill="#fdae4b"/>
<rect x="563" y="333.8" width="26" height="79.4" fill="#fee391"/>
<rect x="563" y="412.9" width="26" height="78.9" fill="#ffffcc"/>
<text x="600.8" y="102" font-size="14">95</text>
<text x="600.8" y="180.98" font-size="14">90</text>
<text x="600.8" y="259.96" font-size="14">85</text>
<text x="600.8" y="338.94" font-size="14">80</text>
<text x="600.8" y="417.92" font-size="14">75</text>
<text x="600.8" y="496.9" font-size="14">70</text>
<text x="581" y="74" font-size="14" font-weight="bold" textLength="52" lengthAdjust="spacingAndGlyphs">kWh/m²</text>
<rect x="1203" y="96.1" width="26" height="56.8286" fill="#cc4c02"/>
<rect x="1203" y="152.629" width="26" height="56.8286" fill="#f68c23"/>
<rect x="1203" y="209.157" width="26" height="56.8286" fill="#fdc574"/>
<rect x="1203" y="265.686" width="26" height="56.8286" fill="#fff0bf"/>
<rect x="1203" y="322.214" width="26" height="56.8286" fill="#f8f8e4"/>
<rect x="1203" y="378.743" width="26" height="56.8286" fill="#d9d9d9"/>
<rect x="1203" y="435.271" width="26" height="56.5286" fill="#a6a6a6"/>
<text x="1241" y="102" font-size="14">120</text>
<text x="1241" y="158.414" font-size="14">115</text>
<text x="1241" y="214.829" font-size="14">110</text>
<text x="1241" y="271.243" font-size="14">105</text>
<text x="1241" y="327.657" font-size="14">100</text>
<text x="1241" y="384.071" font-size="14">95</text>
<text x="1241" y="440.486" font-size="14">90</text>
<text x="1241" y="496.9" font-size="14">85</text>
<text x="1260" y="74" font-size="14" font-weight="bold">%</text>
</svg></body></html>
